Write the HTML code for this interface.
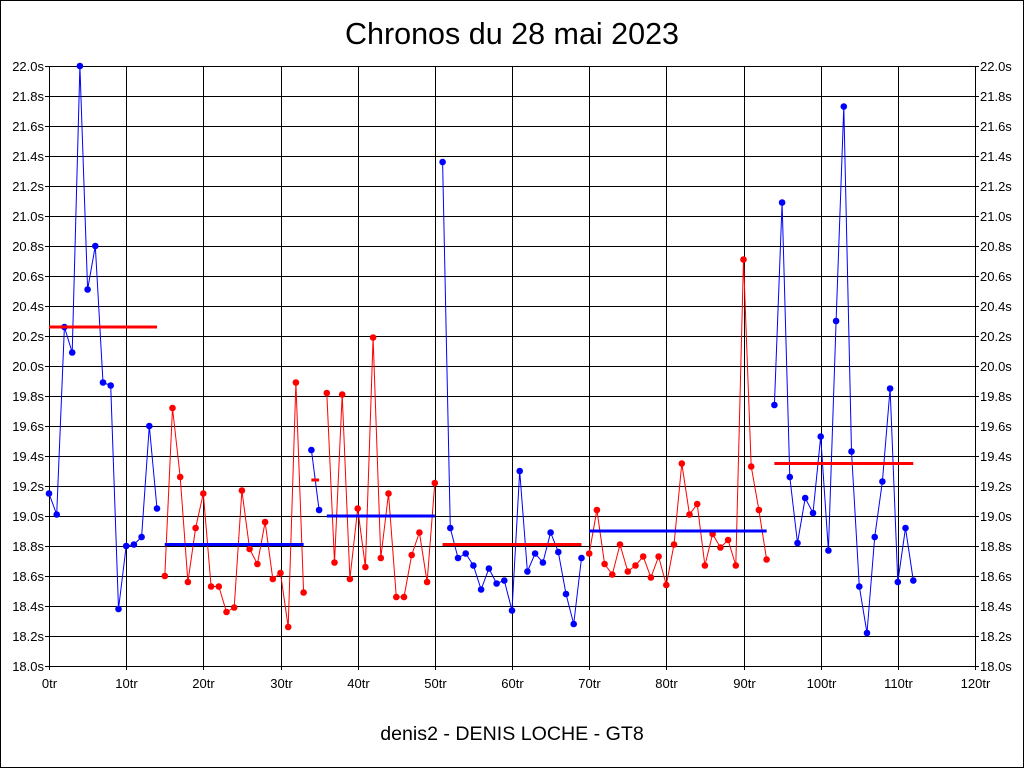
<!DOCTYPE html>
<html><head><meta charset="utf-8"><style>
html,body{margin:0;padding:0;background:#fff;}
svg{display:block;font-family:"Liberation Sans",sans-serif;}
</style></head><body>
<svg id="c" width="1024" height="768" xmlns="http://www.w3.org/2000/svg"></svg>
<script>
const X0=49,X1=975,Y0=666,Y1=66;
const px=i=>X0+i*(X1-X0)/120, py=v=>Y0-(v-18)*150;
const d=[19.15,19.01,20.26,20.09,22.0,20.51,20.80,19.89,19.87,18.38,18.80,18.81,18.86,19.60,19.05,
18.60,19.72,19.26,18.56,18.92,19.15,18.53,18.53,18.36,18.39,19.17,18.78,18.68,18.96,18.58,18.62,18.26,19.89,18.49,
19.44,19.04,
19.82,18.69,19.81,18.58,19.05,18.66,20.19,18.72,19.15,18.46,18.46,18.74,18.89,18.56,19.22,
21.36,18.92,18.72,18.75,18.67,18.51,18.65,18.55,18.57,18.37,19.30,18.63,18.75,18.69,18.89,18.76,18.48,18.28,18.72,
18.75,19.04,18.68,18.61,18.81,18.63,18.67,18.73,18.59,18.73,18.54,18.81,19.35,19.01,19.08,18.67,18.88,18.79,18.84,18.67,20.71,19.33,19.04,18.71,
19.74,21.09,19.26,18.82,19.12,19.02,19.53,18.77,20.30,21.73,19.43,18.53,18.22,18.86,19.23,19.85,18.56,18.92,18.57];
const segs=[[0,14,'#00f',20.26],[15,33,'#f00',18.81],[34,35,'#00f',19.24],[36,50,'#f00',19.00],[51,69,'#00f',18.81],[70,93,'#f00',18.90],[94,112,'#00f',19.35]];
let s='';
s+=`<rect x="0" y="0" width="1024" height="768" fill="#fff"/>`;
s+=`<rect x="0.5" y="0.5" width="1023" height="767" fill="none" stroke="#000"/>`;
s+=`<text x="512" y="44" font-size="30.5" text-anchor="middle">Chronos du 28 mai 2023</text>`;
for(let k=0;k<=20;k++){const y=Y0-k*30,v=(18+k*0.2).toFixed(1)+'s';
 s+=`<line x1="${X0}" x2="${X1}" y1="${y+.5}" y2="${y+.5}" stroke="#000" stroke-width="1"/>`;
 s+=`<line x1="${X0-4}" x2="${X0}" y1="${y+.5}" y2="${y+.5}" stroke="#000"/><line x1="${X1}" x2="${X1+4}" y1="${y+.5}" y2="${y+.5}" stroke="#000"/>`;
 s+=`<text x="${X0-5}" y="${y+5}" font-size="13" text-anchor="end">${v}</text>`;
 s+=`<text x="${X1+5}" y="${y+5}" font-size="13">${v}</text>`;}
for(let k=0;k<=12;k++){const x=Math.round(px(k*10))+.5;
 s+=`<line x1="${x}" x2="${x}" y1="${Y1}" y2="${Y0+4}" stroke="#000"/>`;
 s+=`<text x="${x}" y="${Y0+22}" font-size="13" text-anchor="middle">${k*10}tr</text>`;}
const rs=[[0,14,'#f00'],[15,33,'#00f'],[34,35,'#f00'],[36,50,'#00f'],[51,69,'#f00'],[70,93,'#00f'],[94,112,'#f00']];
segs.forEach((g,j)=>{const [a,b,c]=g;let p=[];for(let i=a;i<=b;i++)p.push(px(i).toFixed(1)+','+py(d[i]).toFixed(1));
 s+=`<polyline points="${p.join(' ')}" fill="none" stroke="${c}" stroke-width="1"/>`;
 for(let i=a;i<=b;i++)s+=`<circle cx="${px(i).toFixed(1)}" cy="${py(d[i]).toFixed(1)}" r="3.3" fill="${c}"/>`;
 const y=py(g[3]);s+=`<line x1="${px(a)}" x2="${px(b)}" y1="${y}" y2="${y}" stroke="${rs[j][2]}" stroke-width="3"/>`;});
s+=`<text x="512" y="740" font-size="19.6" text-anchor="middle">denis2 - DENIS LOCHE - GT8</text>`;
document.getElementById('c').innerHTML=s;
</script>
</body></html>
